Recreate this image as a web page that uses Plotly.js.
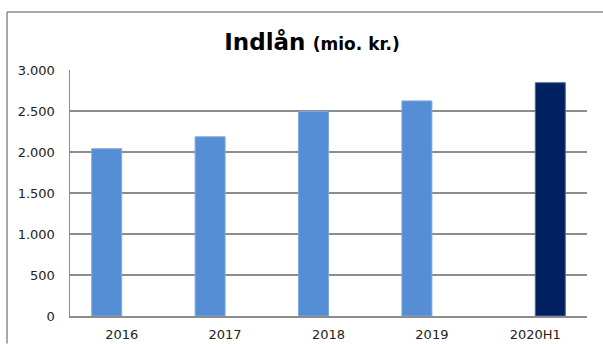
<!DOCTYPE html>
<html>
<head>
<meta charset="utf-8">
<script src="https://cdn.plot.ly/plotly-3.0.1.min.js"></script>
<style>html,body{margin:0;padding:0;background:#fff;}#chart{width:603px;height:344px;}</style>
</head>
<body>
<div id="chart"></div>
<script>
const categories = ["2016", "2017", "2018", "2019", "2020H1"];
const yearValues = [2040, 2185, 2495, 2623, null];
const halfYearValues = [null, null, null, null, 2845];
const titleMain = "Indlån";
const titleSub = "(mio. kr.)";

const traces = [
  {type: "bar", x: categories, y: yearValues, name: "År",
   marker: {color: "#558ED5", line: {color: "#7FA9E0", width: 1}}, hoverinfo: "x+y"},
  {type: "bar", x: categories, y: halfYearValues, name: "Halvår",
   marker: {color: "#002060", line: {color: "#4A6A9E", width: 1}}, hoverinfo: "x+y"}
];

const L = 70, R = 587, T = 70, B = 316.5;
const px2x = p => (p - L) / (R - L);
const py2y = p => (B - p) / (B - T);

const layout = {
  width: 603, height: 344,
  margin: {l: 70, r: 16, t: 70, b: 27.5, pad: 0},
  paper_bgcolor: "#ffffff", plot_bgcolor: "#ffffff",
  showlegend: false,
  barmode: "group", bargap: 0.42, bargroupgap: 0,
  separators: ",.",
  font: {family: "DejaVu Sans, Verdana, sans-serif", size: 13, color: "#222"},
  title: {
    text: "<b>" + titleMain + "</b> <b><span style='font-size:17px'>" + titleSub + "</span></b>",
    font: {family: "DejaVu Sans, Verdana, sans-serif", size: 23, color: "#000"},
    x: 312 / 603, xref: "container", xanchor: "center",
    y: 1 - 50 / 344, yref: "container", yanchor: "bottom"
  },
  xaxis: {
    type: "category", showgrid: false, zeroline: false,
    showline: true, linecolor: "#8c8c8c", linewidth: 1.5,
    ticks: "", ticklabelstandoff: 6,
    tickfont: {size: 13, color: "#222"}, fixedrange: true
  },
  yaxis: {
    range: [0, 3000], dtick: 500, tick0: 0,
    separatethousands: true, tickformat: ",d",
    showgrid: true, gridcolor: "#8c8c8c", gridwidth: 1.5,
    zeroline: false, showline: true, linecolor: "#8c8c8c", linewidth: 1.5,
    ticks: "", ticklabelstandoff: 11,
    tickfont: {size: 13, color: "#222"}, fixedrange: true
  },
  shapes: [
    {type: "line", xref: "paper", yref: "paper", x0: px2x(7), x1: px2x(603), y0: py2y(12), y1: py2y(12),
     line: {color: "#8c8c8c", width: 1.5}},
    {type: "line", xref: "paper", yref: "paper", x0: px2x(7), x1: px2x(7), y0: py2y(12), y1: py2y(344),
     line: {color: "#8c8c8c", width: 1.5}}
  ]
};

Plotly.newPlot("chart", traces, layout, {displayModeBar: false, staticPlot: true});
</script>
</body>
</html>
